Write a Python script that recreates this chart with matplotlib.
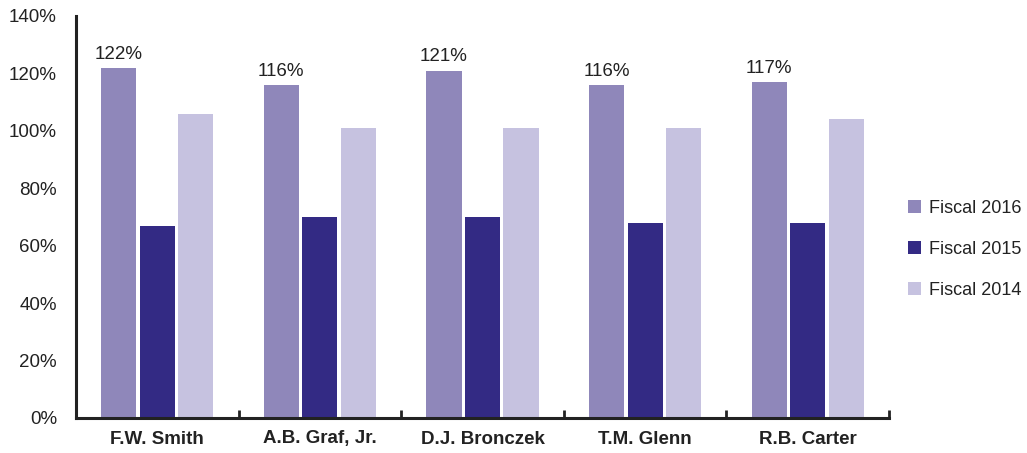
import numpy as np
import matplotlib
matplotlib.use("Agg")
import matplotlib.pyplot as plt
from matplotlib.ticker import FuncFormatter, FixedLocator

# data (percent of target)
executives = ["F.W. Smith", "A.B. Graf, Jr.", "D.J. Bronczek", "T.M. Glenn", "R.B. Carter"]
fiscal_2016 = [122, 116, 121, 116, 117]
fiscal_2015 = [67, 70, 70, 68, 68]
fiscal_2014 = [106, 101, 101, 101, 104]

series_names = ["Fiscal 2016", "Fiscal 2015", "Fiscal 2014"]
colors = ["#8F87BA", "#332A84", "#C6C2E0"]

plt.rcParams["font.family"] = ["Liberation Sans", "DejaVu Sans"]

fig = plt.figure(figsize=(10.27, 4.53), dpi=100)
ax = fig.add_axes([76 / 1027, 35 / 453, (889 - 76) / 1027, (437 - 35) / 453])

x = np.arange(len(executives))
width = 0.216
step = 0.237

for i, (name, vals, col) in enumerate(zip(series_names, [fiscal_2016, fiscal_2015, fiscal_2014], colors)):
    bars = ax.bar(x + (i - 1) * step, vals, width, color=col, label=name, zorder=2)
    if i == 0:
        for b, v in zip(bars, vals):
            ax.text(b.get_x() + b.get_width() / 2, v + 1.8, f"{v}%",
                    ha="center", va="bottom", fontsize=13.5, color="#222222")

ax.set_xlim(-0.5, len(executives) - 0.5)
ax.set_ylim(0, 140)
ax.set_yticks(np.arange(0, 141, 20))
ax.yaxis.set_major_formatter(FuncFormatter(lambda v, _: f"{v:.0f}%"))
ax.tick_params(axis="y", length=0, pad=13.7, labelsize=13.5, colors="#222222")

ax.set_xticks(x)
ax.set_xticklabels(executives, fontsize=13.5, fontweight="bold", color="#222222")
ax.tick_params(axis="x", which="major", length=0, pad=9)
ax.xaxis.set_minor_locator(FixedLocator(np.arange(0.5, len(executives), 1.0)))
ax.tick_params(axis="x", which="minor", direction="in", length=6, width=2, color="#222222")

for side in ["top", "right"]:
    ax.spines[side].set_visible(False)
for side in ["left", "bottom"]:
    ax.spines[side].set_linewidth(2.2)
    ax.spines[side].set_color("#222222")

ax.legend(loc="center left", bbox_to_anchor=(1.023, 0.42), frameon=False,
          fontsize=13, handlelength=0.72, handleheight=0.72, handletextpad=0.45,
          labelspacing=1.33, borderaxespad=0, borderpad=0, labelcolor="#222222")

fig.savefig("out.png", dpi=100)
